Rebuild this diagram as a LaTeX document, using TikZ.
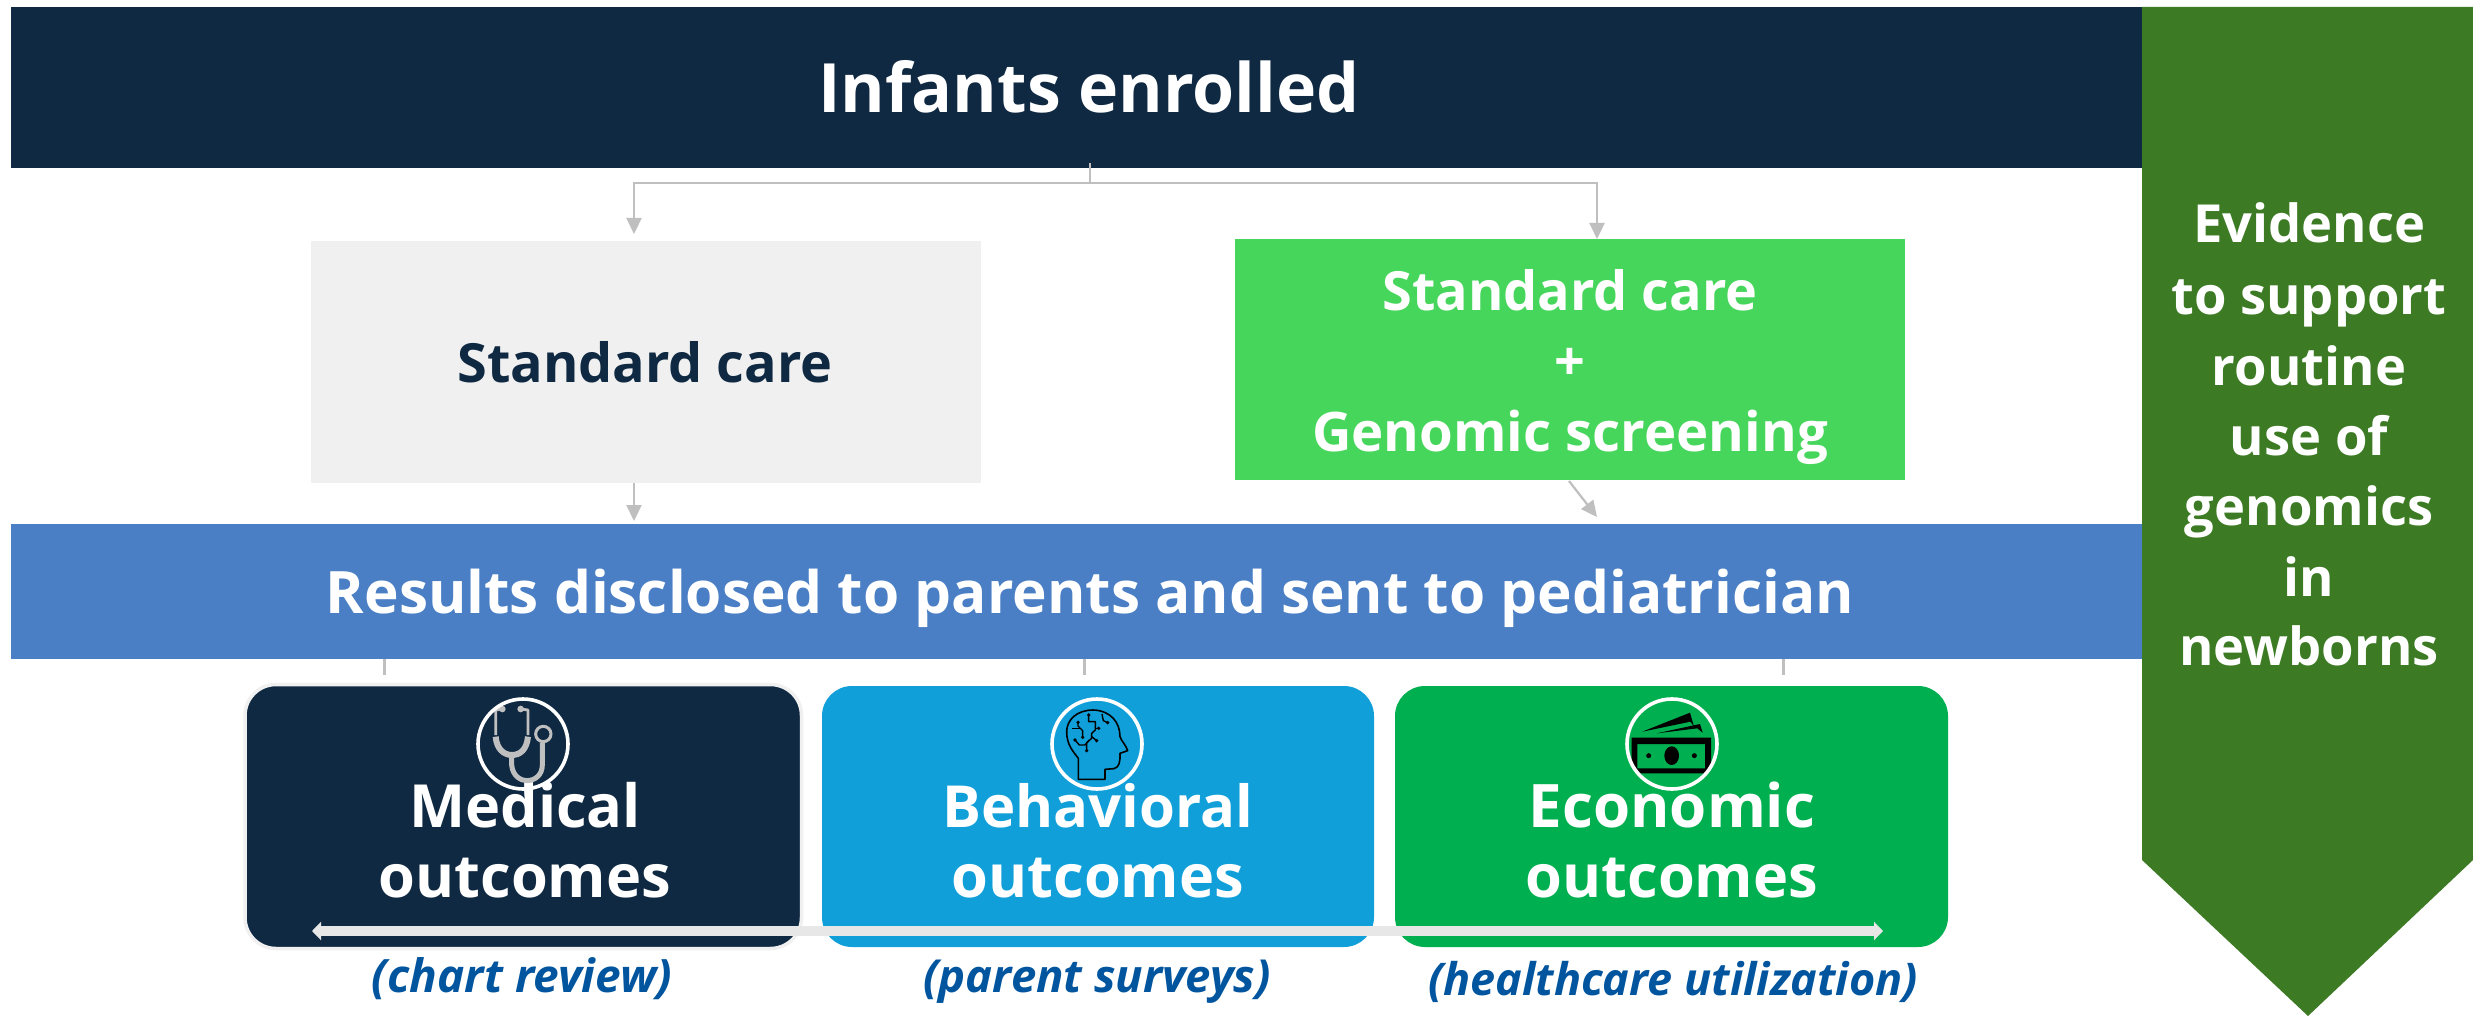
\documentclass[tikz,border=0pt]{standalone}
\usepackage{fontspec}
\setmainfont{Open Sans}
\usetikzlibrary{arrows.meta,calc}
\definecolor{navy}{HTML}{0F2942}
\definecolor{lightgrey}{HTML}{F0F0F0}
\definecolor{brightgreen}{HTML}{47D65C}
\definecolor{midblue}{HTML}{4A7FC5}
\definecolor{darkgreen}{HTML}{3C7A24}
\definecolor{skyblue}{HTML}{119FD9}
\definecolor{econgreen}{HTML}{00AF50}
\definecolor{labelblue}{HTML}{00559E}
\definecolor{conngrey}{HTML}{BFBFBF}
\definecolor{arrowgrey}{HTML}{E7E7E7}
\tikzset{
  x=1pt,y=-1pt,
  bar/.style={draw=none,inner sep=0,outer sep=0,anchor=north west},
  outbox/.style={bar,rounded corners=30pt,minimum width=#1,minimum height=261pt},
  txt/.style={anchor=base,inner sep=0,text=white,font=\fontsize{#1}{#1}\selectfont\bfseries},
  sub/.style={anchor=base,inner sep=0,text=labelblue,font=\fontsize{#1}{#1}\selectfont\bfseries\itshape},
  conn/.style={draw=conngrey,line width=2.2pt},
  connarrow/.style={conn,-{Triangle[width=15pt,length=16pt,fill=conngrey]}},
  iconring/.style={circle,draw=white,line width=3.6pt,minimum size=90pt,inner sep=0,fill=none},
}
\begin{document}
\begin{tikzpicture}
\useasboundingbox (0,0) rectangle (2473,1016);
\fill[white] (0,0) rectangle (2473,1016);
% bars and boxes
\node[bar,fill=navy,minimum width=2131pt,minimum height=161pt] (top) at (11,7) {};
\node[bar,fill=lightgrey,minimum width=670pt,minimum height=242pt] (std) at (311,241) {};
\node[bar,fill=brightgreen,minimum width=670pt,minimum height=241pt] (gen) at (1235,239) {};
\node[bar,fill=midblue,minimum width=2131pt,minimum height=135pt] (res) at (11,524) {};
\node[bar,rounded corners=31pt,minimum width=556.5pt,minimum height=264pt,fill=navy,draw=lightgrey,line width=3.5pt] (med) at (245,684.5) {};
\node[outbox=552pt,fill=skyblue] (beh) at (822,686) {};
\node[outbox=553pt,fill=econgreen] (eco) at (1395,686) {};
% side arrow
\fill[darkgreen] (2142,7) -- (2473,7) -- (2473,860) -- (2308,1016) -- (2142,860) -- cycle;
% connectors
\coordinate (stemtop) at (1090,163);
\coordinate (split) at (1090,183);
\coordinate (ltip) at (634,234);
\coordinate (rtip) at (1597,239);
\draw[conn,line width=1.5pt] (stemtop) -- (split);
\draw[connarrow] (split) -| (ltip);
\draw[connarrow] (split) -| (rtip);
\coordinate (s1) at (634,483);
\coordinate (s2) at (634,521);
\draw[connarrow] (s1) -- (s2);
\coordinate (g1) at (1569,481);
\coordinate (g2) at (1597,517);
\draw[connarrow] (g1) -- (g2);
\foreach \n/\xx in {a/384,b/1084,c/1783}{
  \coordinate (t\n1) at (\xx,659);
  \coordinate (t\n2) at (\xx,675);
  \draw[conn,line width=3pt] (t\n1) -- (t\n2);
}
% text
\node[txt=68] (tTop) at (1089,113) {Infants enrolled};
\node[txt=54,text=navy] (tStd) at (645,382) {Standard care};
\node[txt=54] (tGen1) at (1570,310) {Standard care};
\node[txt=54] (tGenP) at (1570,380) {+};
\node[txt=54.5] (tGen2) at (1570,451) {Genomic screening};
\node[txt=58.5] (tRes) at (1090,613) {Results disclosed to parents and sent to pediatrician};
\foreach \nm/\yy/\tx in {a/243/Evidence,b/314/to support,c/385/routine,d/455/use of,e/525/genomics,f/596/in,g/665/newborns}{
  \node[txt=52.5] (side\nm) at (2309,\yy) {\tx};
}
\node[txt=59.5] (m1) at (525,827) {Medical};
\node[txt=59.5] (m2) at (525,897) {outcomes};
\node[txt=58] (b1) at (1098,827) {Behavioral};
\node[txt=59.5] (b2) at (1098,897) {outcomes};
\node[txt=60] (e1) at (1672,827) {Economic};
\node[txt=59.5] (e2) at (1672,897) {outcomes};
\node[sub=46] (lm) at (522,992) {(chart review)};
\node[sub=45.5] (lb) at (1097,992) {(parent surveys)};
\node[sub=45] (le) at (1673,995) {(healthcare utilization)};
% span arrow
\coordinate (al) at (312,931);
\coordinate (ar) at (1883,931);
\draw[draw=arrowgrey,line width=10pt,{Triangle[width=18pt,length=9pt,fill=arrowgrey]}-{Triangle[width=18pt,length=9pt,fill=arrowgrey]}] (al) -- (ar);
% stethoscope
\begin{scope}[shift={(460,690)},x=0.3333pt,y=-0.3333pt]
  \draw[conngrey,line width=2.8pt,line join=round] (127,57) -- (107,60) -- (107,135);
  \draw[conngrey,line width=2.8pt,line join=round] (182,57) -- (204,60) -- (204,135);
  \draw[conngrey,line width=6pt] (107,140) .. controls (110,180) and (135,195) .. (155,195) .. controls (180,195) and (200,180) .. (204,140);
  \draw[conngrey,line width=5pt] (155,195) -- (155,225) .. controls (158,260) and (185,272) .. (200,272) .. controls (225,272) and (247,255) .. (247,225) -- (247,158);
  \fill[conngrey] (127,57) circle (10);
  \fill[conngrey] (182,57) circle (10);
  \draw[conngrey,line width=3pt] (250,132) circle (23);
\end{scope}
\node[iconring] (imed) at (523,744) {};
% brain head
\begin{scope}[shift={(1040,690)},x=0.3333pt,y=-0.3333pt,line join=round]
  \draw[black,line width=1.6pt] (115,205) -- (115,268) -- (195,268) -- (195,238) -- (222,236)
    .. controls (238,232) and (241,215) .. (240,190) -- (263,182)
    .. controls (258,165) and (245,155) .. (240,140)
    .. controls (240,95) and (210,62) .. (160,60)
    .. controls (110,60) and (80,90) .. (80,125)
    .. controls (80,165) and (100,185) .. (115,205);
  \draw[black,line width=1.4pt] (146,75) -- (146,95) -- (166,95) -- (166,120) -- (155,130) -- (155,145) -- (140,158) -- (140,182);
  \draw[black,line width=1.4pt] (155,140) -- (170,152);
  \draw[black,line width=1.4pt] (166,115) -- (176,115);
  \draw[black,line width=1.4pt] (114,97) -- (114,108) -- (128,122) -- (128,142);
  \draw[black,line width=1.4pt] (97,116) -- (122,116);
  \draw[black,line width=1.4pt] (105,150) -- (118,165) -- (135,165) -- (148,150);
  \draw[black,line width=1.4pt] (186,72) -- (190,92) -- (203,98);
  \foreach \p in {(146,75),(176,115),(114,97),(128,142),(170,152),(105,150),(140,182),(203,98)}{\fill[black] \p circle (5.5);}
\end{scope}
\node[iconring] (ibeh) at (1097,744) {};
% money
\begin{scope}[shift={(1610,690)},x=0.3333pt,y=-0.3333pt]
  \fill[black] (97,125) -- (240,68) -- (252,110) -- (242,95) -- cycle;
  \fill[black] (140,130) -- (270,102) -- (278,128) -- (262,115) -- cycle;
  \begin{scope}
    \clip (185,162) circle (132);
    \fill[black,even odd rule] (65,143) rectangle (303,250) (82,162) rectangle (285,235);
  \end{scope}
  \fill[black] (185,197) ellipse (22 and 28);
  \fill[black] (116,197) circle (7.5);
  \fill[black] (253,197) circle (7.5);
\end{scope}
\node[iconring] (ieco) at (1672,744) {};
\end{tikzpicture}
\end{document}
